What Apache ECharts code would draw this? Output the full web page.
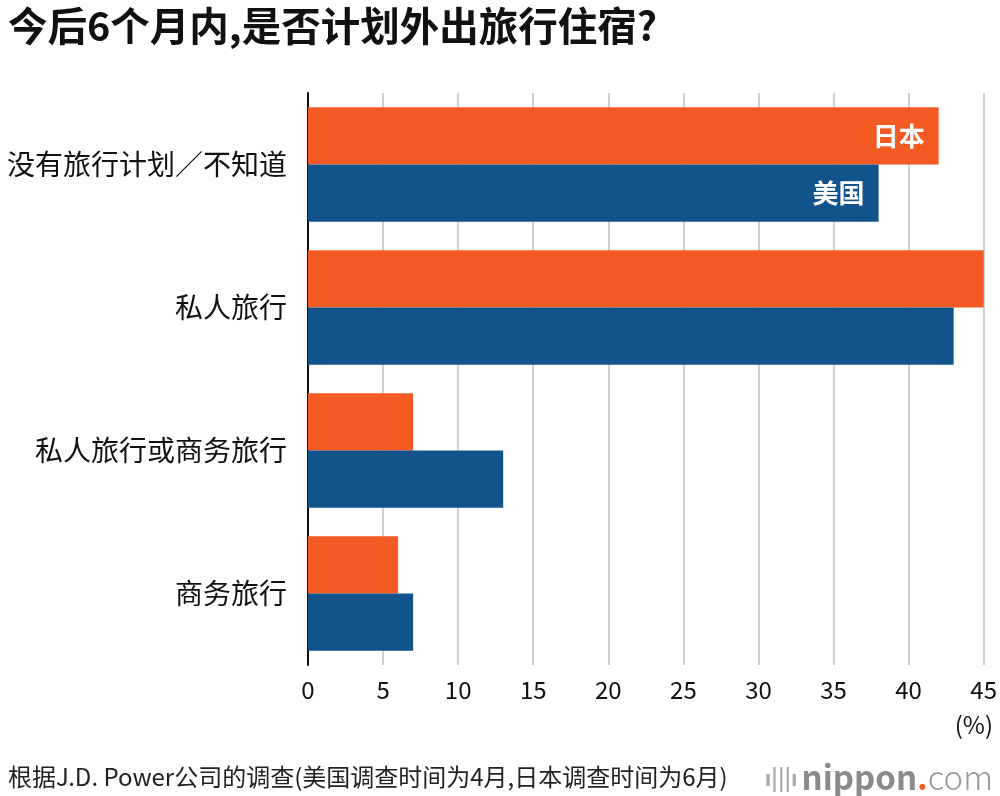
<!DOCTYPE html>
<html><head><meta charset="utf-8">
<script src="https://cdn.jsdelivr.net/npm/echarts@6/dist/echarts.min.js"></script>
<style>html,body{margin:0;padding:0;background:#fff}#c{width:1000px;height:796px}</style>
</head><body><div id="c"></div>
<script>
const categories = ['没有旅行计划／不知道', '私人旅行', '私人旅行或商务旅行', '商务旅行'];
const japan = [42, 45, 7, 6];
const usa = [38, 43, 13, 7];
const seriesNames = ['日本', '美国'];
const xTicks = [0, 5, 10, 15, 20, 25, 30, 35, 40, 45];

const FONT = '"Noto Sans CJK SC", "Noto Sans", sans-serif';
const chart = echarts.init(document.getElementById('c'));
chart.setOption({
  animation: false,
  textStyle: { fontFamily: FONT },
  title: [
    { text: '今后6个月内,是否计划外出旅行住宿?', left: 3, top: 1,
      textStyle: { fontSize: 39.5, fontWeight: 'bold', color: '#111', fontFamily: FONT } },
    { text: '根据J.D. Power公司的调查(美国调查时间为4月,日本调查时间为6月)', left: 3, top: 760,
      textStyle: { fontSize: 24, fontWeight: 'normal', color: '#222', fontFamily: FONT } },
    { text: '{i|ı|||ı} {a|nippon}{b|.}{c|com}', right: 2, top: 756,
      textStyle: { rich: {
        i: { fontSize: 22, color: '#aaa', fontFamily: FONT },
        a: { fontSize: 33, color: '#8a8a8a', fontWeight: 'bold', fontFamily: FONT },
        b: { fontSize: 33, color: '#F45B24', fontWeight: 'bold', fontFamily: FONT },
        c: { fontSize: 33, color: '#9a9a9a', fontWeight: 300, fontFamily: FONT }
      } } },
    { text: '(%)', right: 2, top: 708, textStyle: { fontSize: 24, fontWeight: 'normal', color: '#111', fontFamily: FONT } }
  ],
  grid: { left: 308, right: 15, top: 93, bottom: 131, containLabel: false },
  xAxis: {
    type: 'value', min: 0, max: 45, interval: 5,
    axisLine: { show: false }, axisTick: { show: false },
    splitLine: { show: true, lineStyle: { color: '#d0d0d0', width: 2 } },
    axisLabel: { fontSize: 24, color: '#111', margin: 13, fontFamily: FONT,
      formatter: v => xTicks.includes(v) ? String(v) : '' }
  },
  yAxis: {
    type: 'category', data: categories, inverse: true,
    axisLine: { show: true, lineStyle: { color: '#111', width: 2 } },
    axisTick: { show: false },
    axisLabel: { fontSize: 28, color: '#111', margin: 21, fontFamily: FONT }
  },
  series: [
    { name: seriesNames[0], type: 'bar', data: japan, barGap: '0%', barCategoryGap: '20%',
      itemStyle: { color: '#F45B24' },
      label: { show: true, position: 'insideRight', distance: 14, color: '#fff', fontSize: 26, fontWeight: 'bold',
        formatter: p => p.dataIndex === 0 ? seriesNames[0] : '' } },
    { name: seriesNames[1], type: 'bar', data: usa, barGap: '0%', barCategoryGap: '20%',
      itemStyle: { color: '#13538C' },
      label: { show: true, position: 'insideRight', distance: 14, color: '#fff', fontSize: 26, fontWeight: 'bold',
        formatter: p => p.dataIndex === 0 ? seriesNames[1] : '' } }
  ]
});
</script></body></html>
